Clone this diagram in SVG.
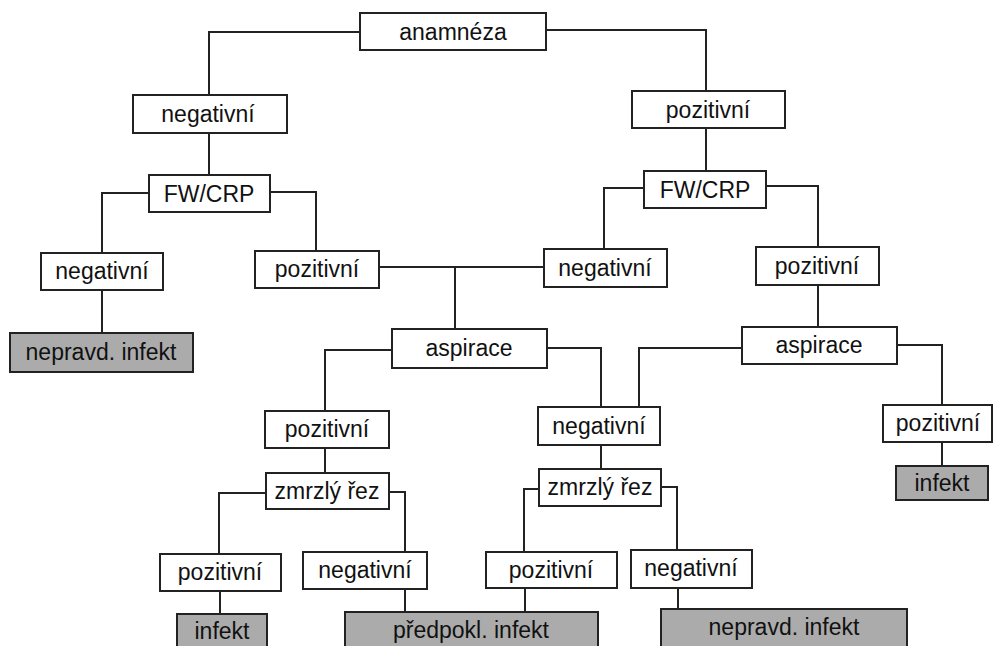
<svg xmlns="http://www.w3.org/2000/svg" width="993" height="646" viewBox="0 0 993 646">
<style>
.b{fill:#fff;stroke:#222;stroke-width:2}
.g{fill:#ababab;stroke:#222;stroke-width:2}
.t{font-family:"Liberation Sans",Arial,sans-serif;font-size:23px;fill:#111;text-anchor:middle}
.c path{fill:none;stroke:#222;stroke-width:2}
</style>
<rect width="993" height="646" fill="#fff"/>
<g class="c" id="connectors">
<path d="M360,32H209V95"/>
<path d="M546,30H706V91"/>
<path d="M209,133V175"/>
<path d="M706,128V171"/>
<path d="M149,193H102V253"/>
<path d="M270,192H316V251"/>
<path d="M644,188H604V249"/>
<path d="M766,186H818V247"/>
<path d="M102,290V333"/>
<path d="M379,267H544"/>
<path d="M455,267V329"/>
<path d="M818,285V327"/>
<path d="M392,350H325V411"/>
<path d="M547,348H601V407"/>
<path d="M742,348H639V407"/>
<path d="M897,345H942V405"/>
<path d="M325,448V473"/>
<path d="M601,445V469"/>
<path d="M942,442V466"/>
<path d="M266,493H219V554"/>
<path d="M389,492H405V552"/>
<path d="M539,489H524V552"/>
<path d="M661,487H677V550"/>
<path d="M220,591V614"/>
<path d="M405,589V612"/>
<path d="M525,588V612"/>
<path d="M678,588V609"/>
</g>
<g id="anamneza"><rect class="b" x="360" y="13" width="186" height="37"/><text class="t" x="453" y="40">anamnéza</text></g>
<g id="neg1"><rect class="b" x="133" y="95" width="154" height="38"/><text class="t" x="208" y="122">negativní</text></g>
<g id="poz1"><rect class="b" x="632" y="91" width="153" height="37"/><text class="t" x="708" y="118">pozitivní</text></g>
<g id="fw1"><rect class="b" x="149" y="175" width="121" height="37"/><text class="t" x="209" y="202">FW/CRP</text></g>
<g id="fw2"><rect class="b" x="644" y="171" width="122" height="37"/><text class="t" x="705" y="198">FW/CRP</text></g>
<g id="neg2"><rect class="b" x="41" y="253" width="122" height="37"/><text class="t" x="102" y="279">negativní</text></g>
<g id="poz2"><rect class="b" x="255" y="251" width="124" height="37"/><text class="t" x="317" y="277">pozitivní</text></g>
<g id="neg3"><rect class="b" x="544" y="249" width="123" height="38"/><text class="t" x="605" y="276">negativní</text></g>
<g id="poz3"><rect class="b" x="756" y="247" width="123" height="38"/><text class="t" x="817" y="274">pozitivní</text></g>
<g id="nep1"><rect class="g" x="10" y="333" width="183" height="39"/><text class="t" x="101" y="360">nepravd. infekt</text></g>
<g id="asp1"><rect class="b" x="392" y="329" width="155" height="39"/><text class="t" x="469" y="356">aspirace</text></g>
<g id="asp2"><rect class="b" x="742" y="327" width="155" height="37"/><text class="t" x="819" y="353">aspirace</text></g>
<g id="poz4"><rect class="b" x="265" y="411" width="124" height="37"/><text class="t" x="327" y="437">pozitivní</text></g>
<g id="neg4"><rect class="b" x="538" y="407" width="122" height="38"/><text class="t" x="599" y="434">negativní</text></g>
<g id="poz5"><rect class="b" x="883" y="405" width="109" height="37"/><text class="t" x="938" y="431">pozitivní</text></g>
<g id="inf1"><rect class="g" x="896" y="466" width="92" height="34"/><text class="t" x="942" y="491">infekt</text></g>
<g id="zr1"><rect class="b" x="266" y="473" width="123" height="36"/><text class="t" x="327" y="499">zmrzlý řez</text></g>
<g id="zr2"><rect class="b" x="539" y="469" width="122" height="37"/><text class="t" x="600" y="495">zmrzlý řez</text></g>
<g id="poz6"><rect class="b" x="160" y="554" width="121" height="37"/><text class="t" x="220" y="580">pozitivní</text></g>
<g id="neg5"><rect class="b" x="303" y="552" width="124" height="37"/><text class="t" x="365" y="578">negativní</text></g>
<g id="poz7"><rect class="b" x="486" y="552" width="131" height="36"/><text class="t" x="551" y="578">pozitivní</text></g>
<g id="neg6"><rect class="b" x="631" y="550" width="121" height="38"/><text class="t" x="691" y="576">negativní</text></g>
<g id="inf2"><rect class="g" x="177" y="614" width="90" height="34"/><text class="t" x="222" y="639">infekt</text></g>
<g id="pred"><rect class="g" x="345" y="612" width="253" height="36"/><text class="t" x="471" y="638">předpokl. infekt</text></g>
<g id="nep2"><rect class="g" x="661" y="609" width="246" height="39"/><text class="t" x="784" y="635">nepravd. infekt</text></g>
</svg>
